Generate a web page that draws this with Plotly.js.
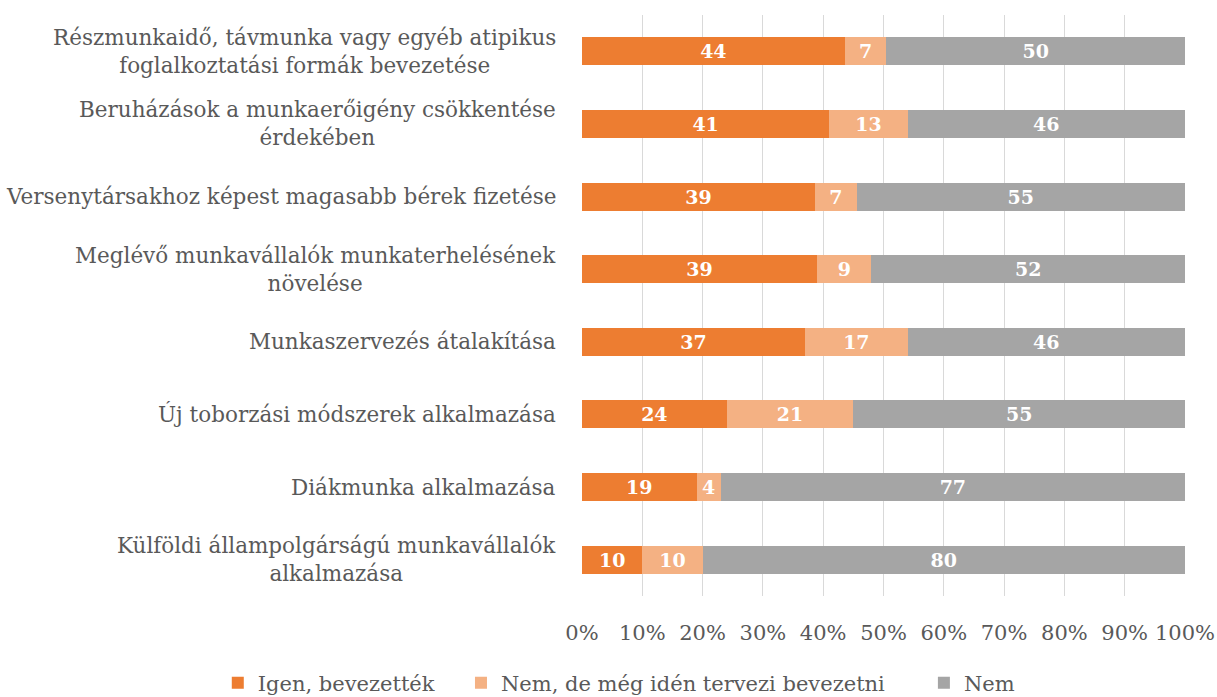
<!DOCTYPE html>
<html>
<head>
<meta charset="utf-8">
<script src="https://cdn.plot.ly/plotly-3.0.1.min.js"></script>
<style>html,body{margin:0;padding:0;background:#fff;}#chart{width:1217px;height:697px;}</style>
</head>
<body>
<div id="chart"></div>
<script>
const categories = [
  "Részmunkaidő, távmunka vagy egyéb atipikus<br>foglalkoztatási formák bevezetése",
  "Beruházások a munkaerőigény csökkentése<br>érdekében",
  "Versenytársakhoz képest magasabb bérek fizetése",
  "Meglévő munkavállalók munkaterhelésének<br>növelése",
  "Munkaszervezés átalakítása",
  "Új toborzási módszerek alkalmazása",
  "Diákmunka alkalmazása",
  "Külföldi állampolgárságú munkavállalók<br>alkalmazása"
];
const seriesNames = ["Igen, bevezették", "Nem, de még idén tervezi bevezetni", "Nem"];
const igen = [44, 41, 39, 39, 37, 24, 19, 10];
const tervezi = [7, 13, 7, 9, 17, 21, 4, 10];
const nem = [50, 46, 55, 52, 46, 55, 77, 80];
const tickVals = [0, 10, 20, 30, 40, 50, 60, 70, 80, 90, 100];
const tickText = ["0%", "10%", "20%", "30%", "40%", "50%", "60%", "70%", "80%", "90%", "100%"];

const colors = ["#ED7D31", "#F4B183", "#A5A5A5"];
const legendIds = ["legend", "legend2", "legend3"];
const legendX = [-0.604, -0.2007, 0.567];
const ids = categories.map((c, i) => "c" + i);
const font = "DejaVu Serif, Liberation Serif, serif";

const traces = [igen, tervezi, nem].map((vals, k) => ({
  type: "bar",
  orientation: "h",
  name: seriesNames[k],
  legend: legendIds[k],
  y: ids,
  x: vals,
  text: vals.map(String),
  textposition: "inside",
  insidetextanchor: "middle",
  textangle: 0,
  constraintext: "none",
  textfont: {family: font, size: 19, color: "#FFFFFF", weight: "bold"},
  marker: {color: colors[k]},
  hoverinfo: "none"
}));

const annotations = categories.map((c, i) => ({
  xref: "paper", yref: "y", x: 0, y: ids[i],
  xanchor: "right", yanchor: "middle", xshift: -24,
  text: c, align: "center", showarrow: false,
  font: {family: font, size: 21.5, color: "#595959"}
}));

const layout = {
  width: 1217, height: 697,
  margin: {l: 582, r: 32, t: 15, b: 101, autoexpand: false},
  barmode: "stack",
  barnorm: "percent",
  bargap: 0.614,
  paper_bgcolor: "#fff",
  plot_bgcolor: "#fff",
  showlegend: true,
  xaxis: {
    range: [0, 100], tickvals: tickVals, ticktext: tickText,
    showgrid: true, gridcolor: "#D9D9D9", gridwidth: 1,
    zeroline: false, showline: false, ticks: "",
    tickfont: {family: font, size: 21, color: "#595959"},
    ticklabelstandoff: 22, fixedrange: true
  },
  yaxis: {
    autorange: "reversed", showticklabels: false, showgrid: false,
    zeroline: false, showline: false, ticks: "", fixedrange: true
  },
  annotations: annotations
};
legendIds.forEach((id, k) => {
  layout[id] = {
    orientation: "h", xref: "paper", yref: "paper",
    x: legendX[k], xanchor: "left", y: -0.15, yanchor: "middle",
    font: {family: font, size: 21, color: "#595959"},
    bgcolor: "rgba(0,0,0,0)"
  };
});

Plotly.newPlot("chart", traces, layout, {displayModeBar: false, staticPlot: true});
</script>
</body>
</html>
